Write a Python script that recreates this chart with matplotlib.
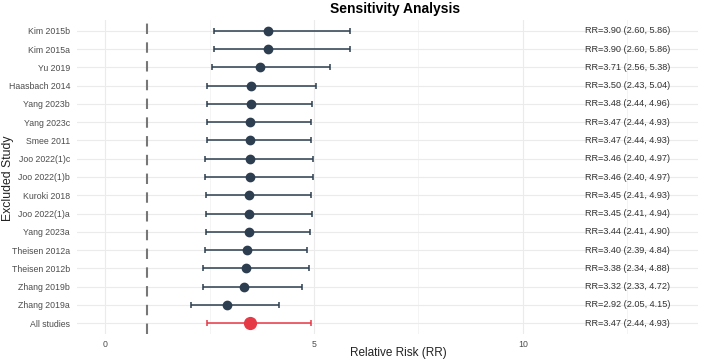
import matplotlib
matplotlib.use("Agg")
import matplotlib.pyplot as plt
import numpy as np

plt.rcParams["font.family"] = ["Liberation Sans", "DejaVu Sans"]

studies = ["Kim 2015b", "Kim 2015a", "Yu 2019", "Haasbach 2014", "Yang 2023b",
           "Yang 2023c", "Smee 2011", "Joo 2022(1)c", "Joo 2022(1)b", "Kuroki 2018",
           "Joo 2022(1)a", "Yang 2023a", "Theisen 2012a", "Theisen 2012b",
           "Zhang 2019b", "Zhang 2019a", "All studies"]
rr = [3.90, 3.90, 3.71, 3.50, 3.48, 3.47, 3.47, 3.46, 3.46, 3.45, 3.45, 3.44,
      3.40, 3.38, 3.32, 2.92, 3.47]
lower = [2.60, 2.60, 2.56, 2.43, 2.44, 2.44, 2.44, 2.40, 2.40, 2.41, 2.41, 2.41,
         2.39, 2.34, 2.33, 2.05, 2.44]
upper = [5.86, 5.86, 5.38, 5.04, 4.96, 4.93, 4.93, 4.97, 4.97, 4.93, 4.94, 4.90,
         4.84, 4.88, 4.72, 4.15, 4.93]
x_ticks = [0, 5, 10]
x_minor = [2.5, 7.5, 12.5]

W, H = 708, 363
fig = plt.figure(figsize=(W / 100, H / 100), dpi=100)
ax = fig.add_axes([77 / W, 1 - 334 / H, (698 - 77) / W, (334 - 20) / H])

n = len(studies)
ypos = np.arange(n)[::-1]

xmin, xmax = 0, 13.52
pad = 0.05 * (xmax - xmin)
ax.set_xlim(xmin - pad, xmax + pad)
ax.set_ylim(-0.6, n - 1 + 0.6)

# grid
for x in x_ticks:
    ax.axvline(x, color="#ebebeb", lw=0.8, zorder=0)
for x in x_minor:
    ax.axvline(x, color="#f3f3f3", lw=0.6, zorder=0)
for y in ypos:
    ax.axhline(y, color="#ebebeb", lw=0.8, zorder=0)

ax.axvline(1, color="#777777", lw=1.5, ls=(0, (5, 4)), zorder=1)

navy = "#2c3e50"
red = "#e63946"
for i, s in enumerate(studies):
    c = red if s == "All studies" else navy
    ms = 8.5 if s == "All studies" else 6
    y = ypos[i]
    ax.errorbar(rr[i], y, xerr=[[rr[i] - lower[i]], [upper[i] - rr[i]]],
                fmt="none", ecolor=c, elinewidth=1.1, capsize=2, capthick=1.1, zorder=2)
    ax.plot(rr[i], y, "o", color=c, ms=ms, zorder=3)
    ax.text(11.48, y, f"RR={rr[i]:.2f} ({lower[i]:.2f}, {upper[i]:.2f})",
            ha="left", va="center", fontsize=6.6, color="#333333")

ax.set_yticks(ypos)
ax.set_yticklabels(studies, fontsize=6.3, color="#4d4d4d")
ax.set_xticks(x_ticks)
ax.set_xticklabels([str(t) for t in x_ticks], fontsize=6.3, color="#4d4d4d")
ax.tick_params(axis="y", length=0, pad=5)
ax.tick_params(axis="x", length=0, pad=4)
for sp in ax.spines.values():
    sp.set_visible(False)

fig.text(398 / W, 1 - 353 / H, "Relative Risk (RR)", fontsize=8.5, color="#222222",
         ha="center", va="center")
fig.text(8 / W, 1 - 178 / H, "Excluded Study", fontsize=8.8, color="#222222",
         ha="center", va="center", rotation=90)
fig.text(395 / W, 1 - 9 / H, "Sensitivity Analysis", fontsize=10, fontweight="bold",
         ha="center", va="center")

fig.savefig("out.png", dpi=100)
